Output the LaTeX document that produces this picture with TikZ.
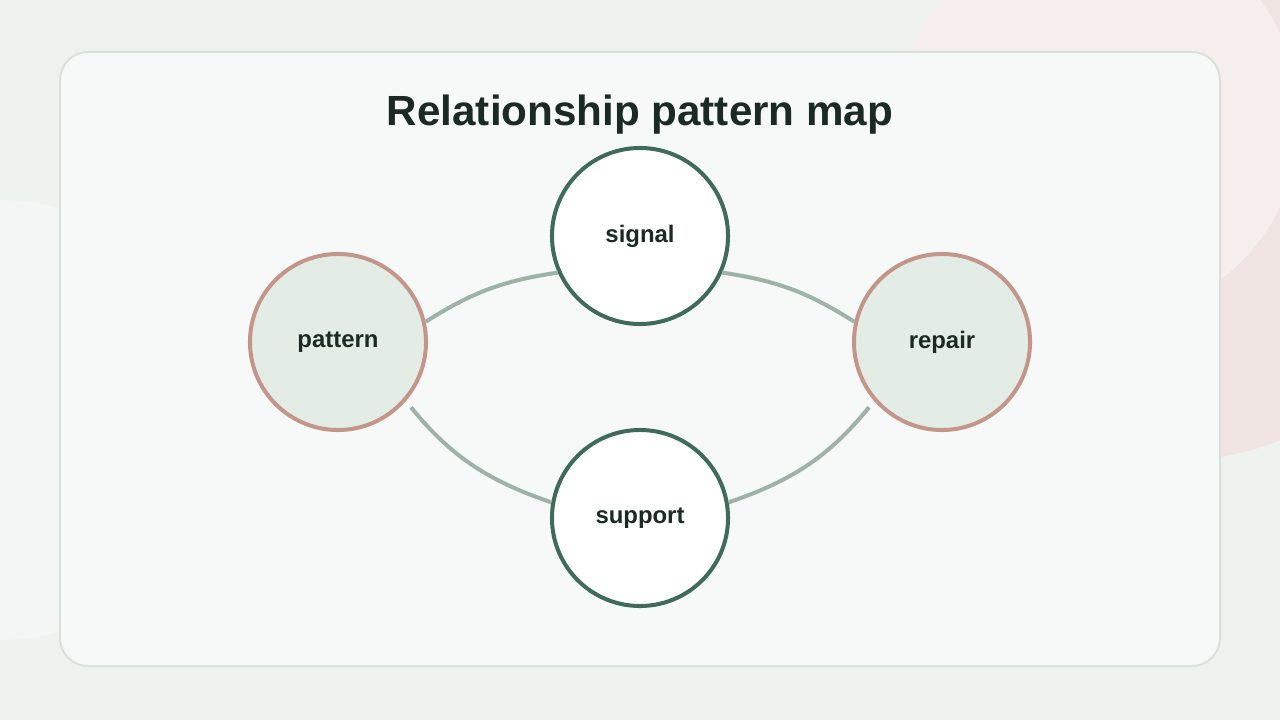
\documentclass[tikz,border=0pt]{standalone}
\usepackage{fontspec}
\setmainfont{Liberation Sans}
\usetikzlibrary{positioning}
\definecolor{cgreen}{HTML}{3E6B5A}
\definecolor{crose}{HTML}{C4968A}
\definecolor{cfill}{HTML}{E3EDE6}
\definecolor{cedge}{HTML}{9DB3A8}
\definecolor{ctext}{HTML}{1B2A24}
\definecolor{cbg}{HTML}{EEF3EF}
\definecolor{ccard}{HTML}{F6F9F7}
\tikzset{
  hub/.style={circle,minimum size=4.4cm,line width=0.1cm,draw=cgreen,fill=white,text=ctext,font=\bfseries\fontsize{17}{20}\selectfont},
  side/.style={hub,draw=crose,fill=cfill},
  link/.style={line width=0.1cm,draw=cedge}
}
\begin{document}
\begin{tikzpicture}[x=0.025cm,y=-0.025cm]
%
\useasboundingbox (0,0) rectangle (1280,720);
\fill[cbg] (0,0) rectangle (1280,720);
\fill[crose!25] (1180,200) circle (260);
\fill[crose!15] (1100,120) circle (200);
\fill[cedge!12] (0,420) circle (220);
\fill[ccard,draw=cedge!40,line width=0.05cm,rounded corners=0.7cm] (60,52) rectangle (1220,666);
%
\node[font=\bfseries\fontsize{30}{36}\selectfont,text=ctext] (title) at (640,115) {Relationship pattern map};
%
\node[hub] (signal) at (640,236) {signal};
\node[side] (pattern) at (338,342) {pattern};
\node[side] (repair) at (942,342) {repair};
\node[hub] (support) at (640,518) {support};
%
\draw[link] (pattern.13) to[bend left=12] (signal.204);
\draw[link] (signal.336) to[bend left=12] (repair.167);
\draw[link,shorten <=0.2cm] (pattern.-41) to[bend right=16] (support.170);
\draw[link,shorten >=0.2cm] (support.10) to[bend right=16] (repair.221);
%
\end{tikzpicture}
\end{document}
